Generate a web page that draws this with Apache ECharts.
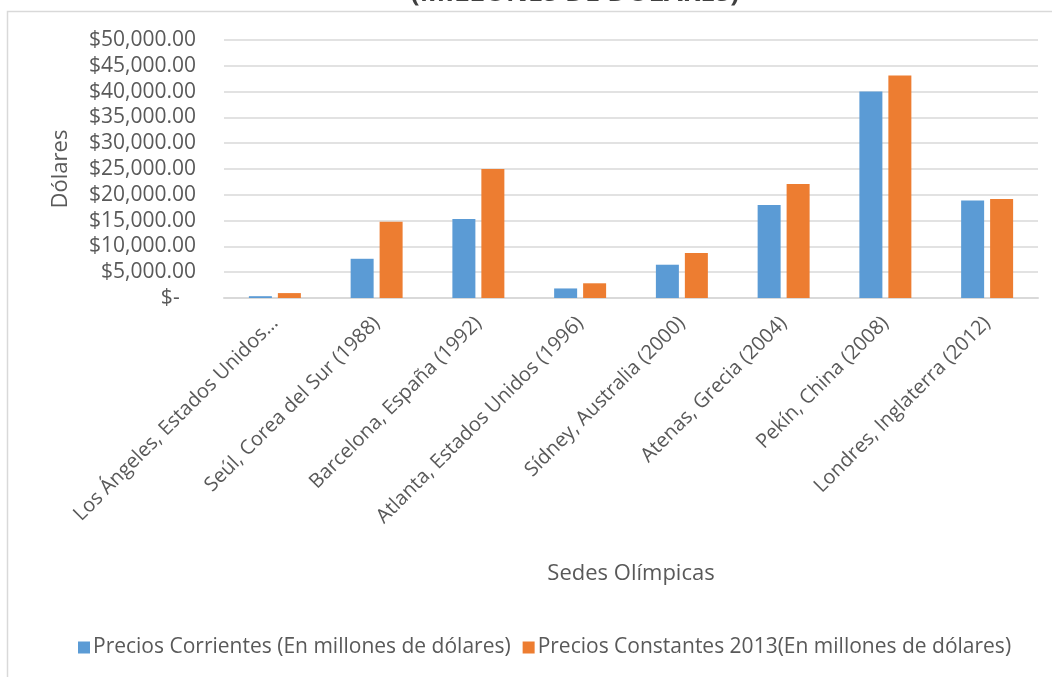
<!DOCTYPE html>
<html>
<head>
<meta charset="utf-8">
<script src="https://cdn.jsdelivr.net/npm/echarts@6/dist/echarts.min.js"></script>
<style>
html,body{margin:0;padding:0;background:#fff;}
#chart{width:1052px;height:677px;}
</style>
</head>
<body>
<div id="chart"></div>
<script>
const categories = [
  'Los Ángeles, Estados Unidos…',
  'Seúl, Corea del Sur (1988)',
  'Barcelona, España (1992)',
  'Atlanta, Estados Unidos (1996)',
  'Sídney, Australia (2000)',
  'Atenas, Grecia (2004)',
  'Pekín, China (2008)',
  'Londres, Inglaterra (2012)'
];
const preciosCorrientes = [350, 7600, 15300, 1850, 6450, 18000, 40000, 18900];
const preciosConstantes = [950, 14800, 25000, 2850, 8700, 22100, 43100, 19200];
const seriesNames = ['Precios Corrientes (En millones de dólares)', 'Precios Constantes 2013(En millones de dólares)'];
const titleText = '(MILLONES DE DÓLARES)';
const yAxisName = 'Dólares';
const xAxisName = 'Sedes Olímpicas';

const FONT = '"Open Sans", sans-serif';
const TXT = '#595959';

const chart = echarts.init(document.getElementById('chart'));
chart.setOption({
  animation: false,
  backgroundColor: '#fff',
  graphic: [
    {
      type: 'rect', z: -1, silent: true,
      shape: { x: 7.5, y: 11.5, width: 1200, height: 800 },
      style: { fill: 'none', stroke: '#d9d9d9', lineWidth: 1.5 }
    },
    {
      type: 'text', x: 575, y: 7,
      style: { text: titleText, font: 'bold 27px ' + FONT, fill: '#404040', align: 'center', verticalAlign: 'bottom' }
    }
  ],
  legend: {
    left: 73, top: 632,
    itemWidth: 12, itemHeight: 12, itemGap: 12,
    icon: 'rect',
    textStyle: { fontFamily: FONT, fontSize: 21, color: TXT, padding: [0, 0, 0, -2] },
    data: seriesNames
  },
  grid: { left: 224, right: 14, top: 40, bottom: 379, containLabel: false },
  xAxis: {
    type: 'category',
    data: categories,
    name: xAxisName,
    nameLocation: 'middle',
    nameGap: 265,
    nameTextStyle: { fontFamily: FONT, fontSize: 22, color: TXT },
    axisTick: { show: false },
    axisLine: { lineStyle: { color: '#d9d9d9', width: 2 } },
    axisLabel: { interval: 0, rotate: 45, margin: 22, fontFamily: FONT, fontSize: 20, color: TXT }
  },
  yAxis: {
    type: 'value',
    min: 0, max: 50000, interval: 5000,
    name: yAxisName,
    nameLocation: 'middle',
    nameGap: 152,
    nameTextStyle: { fontFamily: FONT, fontSize: 22, color: TXT },
    axisLine: { show: false },
    axisTick: { show: false },
    splitLine: { lineStyle: { color: '#d9d9d9', width: 1.5 } },
    axisLabel: {
      margin: 28, fontFamily: FONT, fontSize: 21, color: TXT,
      formatter: v => v === 0 ? '$-   ' : '$' + v.toLocaleString('en-US', { minimumFractionDigits: 2, maximumFractionDigits: 2 })
    }
  },
  series: [
    {
      name: seriesNames[0], type: 'bar', data: preciosCorrientes,
      barWidth: 23, barGap: '26%',
      itemStyle: { color: '#5b9bd5' }
    },
    {
      name: seriesNames[1], type: 'bar', data: preciosConstantes,
      barWidth: 23,
      itemStyle: { color: '#ed7d31' }
    }
  ]
});
</script>
</body>
</html>
